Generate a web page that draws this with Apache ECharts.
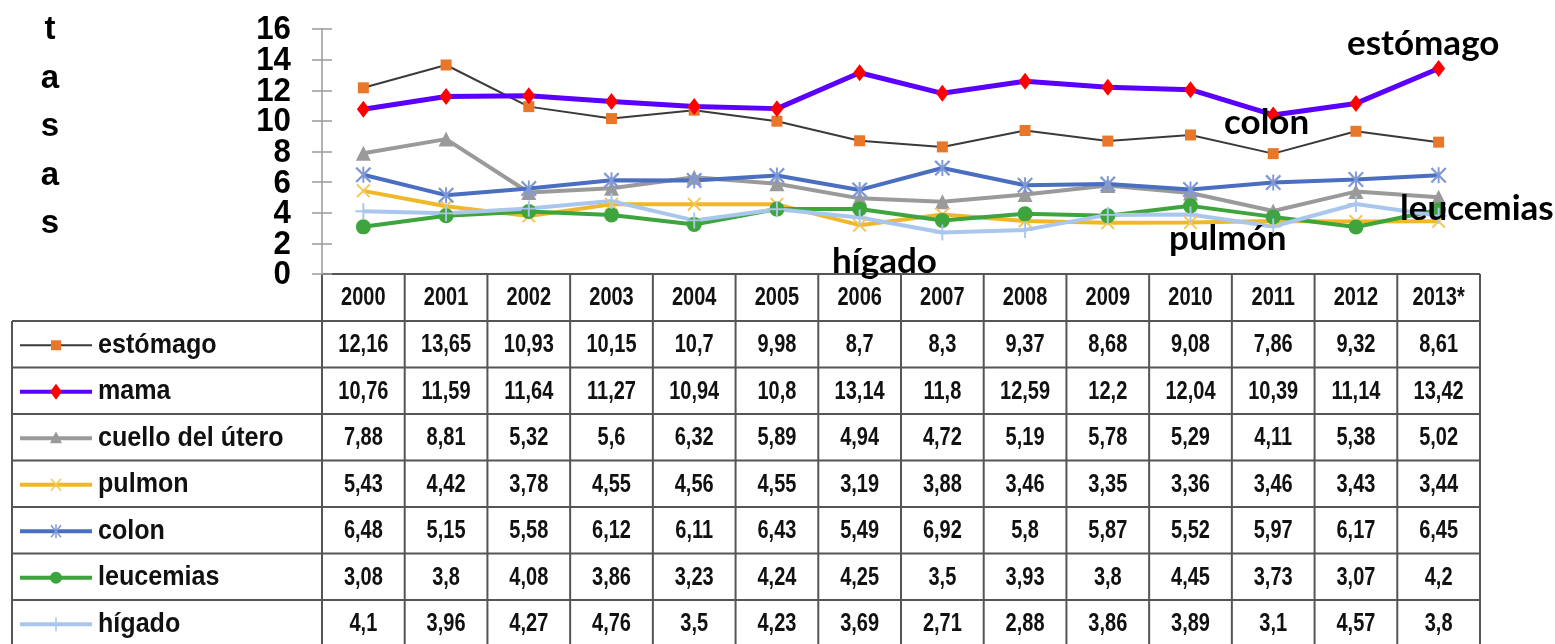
<!DOCTYPE html>
<html>
<head>
<meta charset="utf-8">
<title>tasas</title>
<script src="https://cdn.jsdelivr.net/npm/echarts@6/dist/echarts.min.js"></script>
<style>
	html, body { margin: 0; height: 100%; background: #fff; }
	#main { width: 1555px; height: 644px; }
</style>
</head>
<body>
<div id="main"></div>
<script>
	// datos
	var years = ['2000', '2001', '2002', '2003', '2004', '2005', '2006', '2007', '2008', '2009', '2010', '2011', '2012', '2013*'];
	var yTicks = [0, 2, 4, 6, 8, 10, 12, 14, 16];
	var estomago = [12.16, 13.65, 10.93, 10.15, 10.7, 9.98, 8.7, 8.3, 9.37, 8.68, 9.08, 7.86, 9.32, 8.61];
	var mama = [10.76, 11.59, 11.64, 11.27, 10.94, 10.8, 13.14, 11.8, 12.59, 12.2, 12.04, 10.39, 11.14, 13.42];
	var cuello = [7.88, 8.81, 5.32, 5.6, 6.32, 5.89, 4.94, 4.72, 5.19, 5.78, 5.29, 4.11, 5.38, 5.02];
	var pulmon = [5.43, 4.42, 3.78, 4.55, 4.56, 4.55, 3.19, 3.88, 3.46, 3.35, 3.36, 3.46, 3.43, 3.44];
	var colon = [6.48, 5.15, 5.58, 6.12, 6.11, 6.43, 5.49, 6.92, 5.8, 5.87, 5.52, 5.97, 6.17, 6.45];
	var leucemias = [3.08, 3.8, 4.08, 3.86, 3.23, 4.24, 4.25, 3.5, 3.93, 3.8, 4.45, 3.73, 3.07, 4.2];
	var higado = [4.1, 3.96, 4.27, 4.76, 3.5, 4.23, 3.69, 2.71, 2.88, 3.86, 3.89, 3.1, 4.57, 3.8];
	var rowNames = ['estómago', 'mama', 'cuello del útero', 'pulmon', 'colon', 'leucemias', 'hígado'];
	var notes = ['estómago', 'colon', 'leucemias', 'pulmón', 'hígado'];

	(function () {
		var SANS = "'Liberation Sans', Arial, sans-serif";
		var NOTE = "Lato, 'Open Sans', sans-serif";

		var X_SHAPE = 'path://M0,1L1,0L5,4L9,0L10,1L6,5L10,9L9,10L5,6L1,10L0,9L4,5Z';
		var STAR_SHAPE = 'path://M0,1L1,0L5,4L9,0L10,1L6,5L10,9L9,10L5,6L1,10L0,9L4,5ZM4.4,0H5.6V10H4.4Z';
		var PLUS_SHAPE = 'path://M4.4,0H5.6V4.4H10V5.6H5.6V10H4.4V5.6H0V4.4H4.4Z';

		var styles = [
			{ data: estomago, line: '#3a3a3a', width: 2, symbol: 'rect', size: 11, mark: '#e8772a' },
			{ data: mama, line: '#5a00ff', width: 5, symbol: 'diamond', size: [13, 17], mark: '#ff0000' },
			{ data: cuello, line: '#9a9a9a', width: 4, symbol: 'triangle', size: 15, mark: '#9a9a9a' },
			{ data: pulmon, line: '#f0b72a', width: 4, symbol: X_SHAPE, size: 14, mark: '#f3c75a' },
			{ data: colon, line: '#4a6ec0', width: 4, symbol: STAR_SHAPE, size: 16, mark: '#7f98d6' },
			{ data: leucemias, line: '#3ea43e', width: 4, symbol: 'circle', size: 15, mark: '#3ea43e' },
			{ data: higado, line: '#a9c7ec', width: 4, symbol: PLUS_SHAPE, size: 16, mark: '#a9c7ec' }
		];

		var series = [];
		for (var i = 0; i < styles.length; i++) {
			var s = styles[i];
			series.push({
				name: rowNames[i],
				type: 'line',
				data: s.data,
				symbol: s.symbol,
				symbolSize: s.size,
				showAllSymbol: true,
				lineStyle: { color: s.line, width: s.width },
				itemStyle: { color: s.mark },
				emphasis: { disabled: true }
			});
		}

		var myChart = echarts.init(document.getElementById('main'));
		myChart.setOption({
			animation: false,
			grid: { left: 322, right: 75, top: 29, bottom: 370 },
			xAxis: [{
				type: 'category',
				data: years,
				boundaryGap: true,
				axisLine: { show: false },
				axisTick: { show: false },
				axisLabel: { show: false }
			}],
			yAxis: [{
				type: 'value',
				min: yTicks[0],
				max: yTicks[yTicks.length - 1],
				interval: 2,
				axisLine: { show: true, lineStyle: { color: '#9a9a9a', width: 1.5 } },
				axisTick: { show: true, length: 10, lineStyle: { color: '#9a9a9a', width: 1.5 } },
				axisLabel: { show: false },
				splitLine: { show: false }
			}, {
				type: 'value',
				position: 'left',
				min: yTicks[0],
				max: yTicks[yTicks.length - 1],
				interval: 2,
				axisLine: { show: false },
				axisTick: { show: true, inside: true, length: 10, lineStyle: { color: '#9a9a9a', width: 1.5 } },
				axisLabel: { show: false },
				splitLine: { show: false }
			}],
			series: series
		});

		function fmt(v) {
			return String(v).replace('.', ',');
		}

		function seg(x1, y1, x2, y2, c, w) {
			return { type: 'line', shape: { x1: x1, y1: y1, x2: x2, y2: y2 }, style: { stroke: c, lineWidth: w } };
		}

		function txt(x, y, t, font, align, sx) {
			return {
				type: 'text', x: x, y: y, scaleX: sx || 1,
				style: { text: t, fill: '#111', font: font, align: align, verticalAlign: 'middle' }
			};
		}

		function legendMark(i, cx, cy, out) {
			var s = styles[i];
			var c = s.mark;
			if (s.symbol == 'rect') out.push({ type: 'rect', shape: { x: cx - 5, y: cy - 5, width: 10, height: 10 }, style: { fill: c } });
			else if (s.symbol == 'diamond') out.push({ type: 'polygon', shape: { points: [[cx, cy - 8], [cx + 6, cy], [cx, cy + 8], [cx - 6, cy]] }, style: { fill: c } });
			else if (s.symbol == 'triangle') out.push({ type: 'polygon', shape: { points: [[cx, cy - 7], [cx + 6, cy + 5], [cx - 6, cy + 5]] }, style: { fill: c } });
			else if (s.symbol == 'circle') out.push({ type: 'circle', shape: { cx: cx, cy: cy, r: 6 }, style: { fill: c } });
			else if (s.symbol == X_SHAPE) {
				out.push(seg(cx - 5, cy - 6, cx + 5, cy + 6, c, 1.5));
				out.push(seg(cx + 5, cy - 6, cx - 5, cy + 6, c, 1.5));
			} else if (s.symbol == STAR_SHAPE) {
				out.push(seg(cx - 5, cy - 6, cx + 5, cy + 6, c, 1.5));
				out.push(seg(cx + 5, cy - 6, cx - 5, cy + 6, c, 1.5));
				out.push(seg(cx, cy - 7, cx, cy + 7, c, 1.5));
			} else {
				out.push(seg(cx, cy - 7, cx, cy + 7, c, 1.5));
			}
		}

		var g = [];

		// etiquetas del eje y (juntas, como en el original)
		for (var t = 0; t < yTicks.length; t++) {
			var py = myChart.convertToPixel({ yAxisIndex: 0 }, yTicks[t]);
			g.push({
				type: 'text', x: 291, y: py + 1, scaleX: 0.92,
				style: { text: String(yTicks[t]), fill: '#000', font: 'bold 34px ' + SANS, align: 'right', verticalAlign: 'middle' }
			});
		}

		// tabla de datos debajo del grafico
		var tLeft = 12;
		var x0 = myChart.convertToPixel({ xAxisIndex: 0 }, 0);
		var x1 = myChart.convertToPixel({ xAxisIndex: 0 }, 1);
		var band = x1 - x0;
		var gridLeft = x0 - band / 2;
		var gridRight = gridLeft + band * years.length;
		var tTop = myChart.convertToPixel({ yAxisIndex: 0 }, 0);
		var headH = 47;
		var rowH = 46.5;
		var bc = '#555';
		var numFont = 'bold 25px ' + SANS;

		g.push(seg(gridLeft, tTop, gridRight, tTop, bc, 2));
		for (var r = 0; r <= rowNames.length; r++) {
			var yy = tTop + headH + r * rowH;
			g.push(seg(tLeft, yy, gridRight, yy, bc, 2));
		}
		var tBottom = tTop + headH + rowNames.length * rowH;
		g.push(seg(tLeft, tTop + headH, tLeft, tBottom, bc, 2));
		for (var c = 0; c <= years.length; c++) {
			var xx = gridLeft + c * band;
			g.push(seg(xx, tTop, xx, tBottom, bc, 2));
		}
		for (var c = 0; c < years.length; c++) {
			g.push(txt(myChart.convertToPixel({ xAxisIndex: 0 }, c), tTop + headH / 2 + 1, years[c], numFont, 'center', 0.8));
		}
		for (var r = 0; r < rowNames.length; r++) {
			var cy = tTop + headH + r * rowH + rowH / 2 + 1;
			var st = styles[r];
			g.push(seg(20, cy, 92, cy, st.line, Math.min(st.width, 4)));
			legendMark(r, 56, cy, g);
			g.push(txt(98, cy, rowNames[r], 'bold 27px ' + SANS, 'left', 0.93));
			for (var c = 0; c < years.length; c++) {
				g.push(txt(myChart.convertToPixel({ xAxisIndex: 0 }, c), cy, fmt(st.data[c]), numFont, 'center', 0.8));
			}
		}

		// eje vertical "tasas"
		var word = 'tasas';
		for (var k = 0; k < word.length; k++) {
			g.push({
				type: 'text', x: 50, y: 30 + k * 48.5,
				style: { text: word.charAt(k), fill: '#000', font: 'bold 33px ' + SANS, align: 'center', verticalAlign: 'middle' }
			});
		}

		// titulo (cortado arriba)
		g.push({
			type: 'text', x: 722, y: -24,
			style: { text: '(tasas ajustadas por 100.000 mujeres)', fill: '#000', font: 'bold 25px ' + SANS, align: 'center', verticalAlign: 'top' }
		});

		// rotulos sobre las lineas
		var notePos = [[1347, 44], [1224, 123], [1400, 209], [1169, 239], [832, 262]];
		for (var k = 0; k < notes.length; k++) {
			g.push({
				type: 'text', x: notePos[k][0], y: notePos[k][1], z: 20,
				style: { text: notes[k], fill: '#000', font: 'bold 35px ' + NOTE, align: 'left', verticalAlign: 'middle' }
			});
		}

		myChart.setOption({ graphic: { elements: g } });
	})();
</script>
</body>
</html>
